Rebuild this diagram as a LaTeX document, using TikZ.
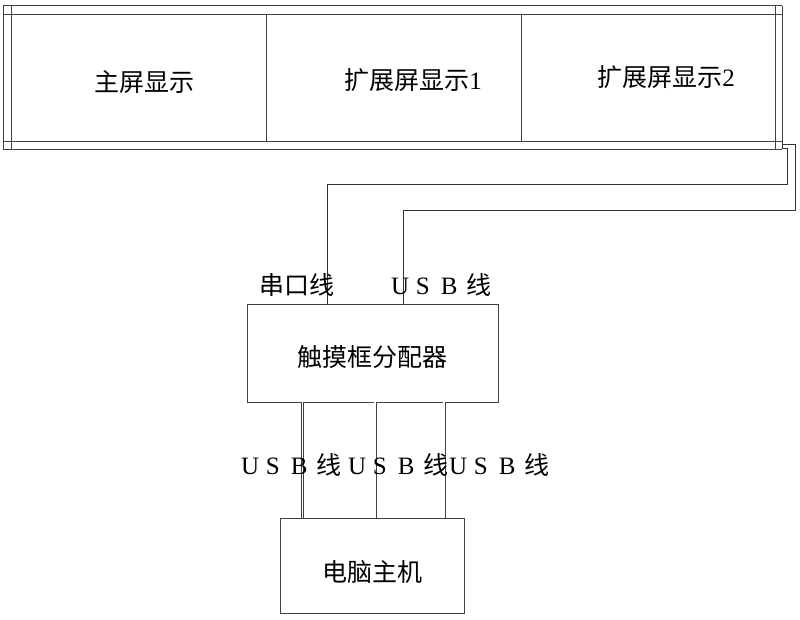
\documentclass[tikz,border=0pt]{standalone}
\usepackage{fontspec}
\setmainfont{Liberation Serif}
\newfontfamily\cjk{Noto Sans CJK SC}
\usetikzlibrary{positioning,calc}

\newcommand{\usbtext}{\makebox[25pt][l]{U}\makebox[25pt][l]{S}\makebox[25pt][l]{B}{\cjk 线}}

\begin{document}
\begin{tikzpicture}[
  x=1pt, y=-1pt,
  font=\fontsize{25}{29}\selectfont,
  frame/.style={draw=black!75, line width=0.8pt},
  box/.style={draw=black!75, line width=0.8pt, minimum width=#1, inner sep=0pt},
  cable/.style={draw=black!80, line width=0.9pt},
  usb/.style={draw=black!75, line width=0.7pt, double=white, double distance=1.6pt},
  lbl/.style={inner sep=0pt, font=\fontsize{25}{29}\selectfont},
]
\useasboundingbox (0,0) rectangle (800,619);

% --- Display panel frame ---
\foreach \x in {3,11,775,782} {
  \draw[frame] (\x,5.5) -- (\x,149);
}
\foreach \y in {5.5,14,141,149} {
  \draw[frame] (3,\y) -- (782,\y);
}
\foreach \x in {266,521} {
  \draw[frame] (\x,14) -- (\x,141);
}

\node[lbl] (main) at (144,82) {\cjk 主屏显示};
\node[lbl] (ext1) at (413,80) {{\cjk 扩展屏显示}1};
\node[lbl] (ext2) at (666,77) {{\cjk 扩展屏显示}2};

% cable ports on the panel
\coordinate (usbport) at (782,144);
\coordinate (serport) at (782,148);

% --- Touch frame distributor and host ---
\node[box=251pt, minimum height=98pt,
      label={[lbl, yshift=-4pt]center:{\cjk 触摸框分配器}}] (hub) at (372.5,353) {};
\node[box=184pt, minimum height=95pt,
      label={[lbl, yshift=-7pt]center:{\cjk 电脑主机}}] (pc) at (372,565.5) {};

% --- Cables panel -> distributor ---
\draw[cable] (serport) -| (787,184) -| ([xshift=-45.5pt]hub.north);
\draw[cable] (usbport) -| (795,210) -| ([xshift=30.5pt]hub.north);

\node[lbl] (serlbl) at (297,285) {\cjk 串口线};
\node[lbl] (usblbl) at (441,285) {\usbtext};

% --- USB cables distributor -> host ---
\foreach \dx in {-70,2.5,71.5} {
  \draw[usb] ([xshift=\dx pt]hub.south) -- ([xshift=\dx pt]hub.south |- pc.north);
}

\node[lbl] (usb1) at (291,465) {\usbtext};
\node[lbl] (usb2) at (398,465) {\usbtext};
\node[lbl] (usb3) at (499,465) {\usbtext};

\end{tikzpicture}
\end{document}
